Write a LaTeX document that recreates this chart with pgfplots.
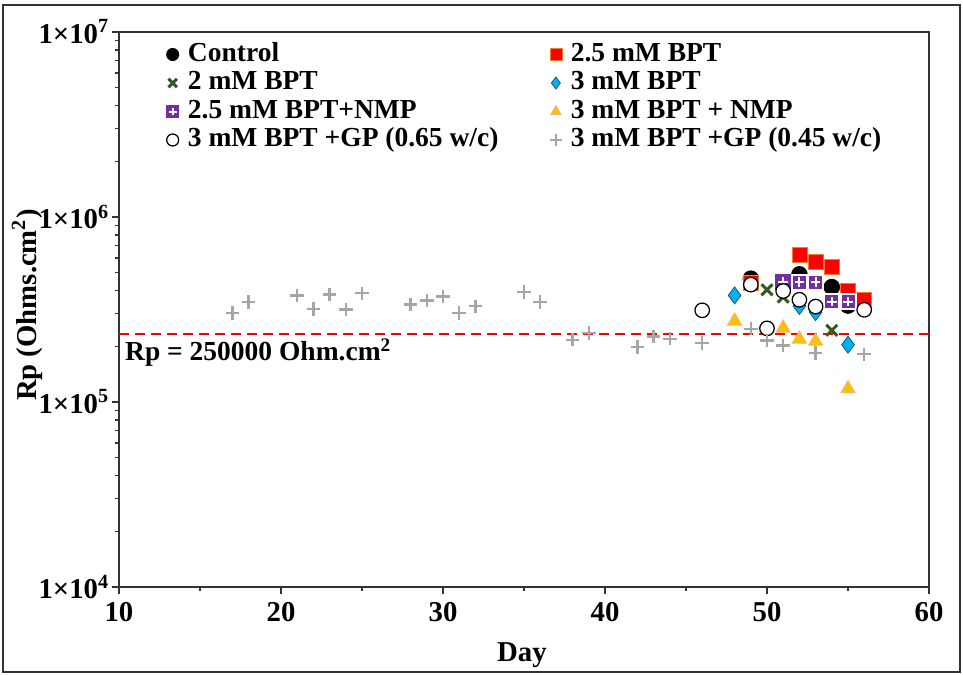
\documentclass[border=0pt]{standalone}
\usepackage{fontspec}
\setmainfont{Liberation Serif}
\usepackage{pgfplots}
\pgfplotsset{compat=1.18}
\definecolor{cgreen}{HTML}{375623}
\definecolor{cblue}{HTML}{00B0F0}
\definecolor{cblueedge}{HTML}{1F4E79}
\definecolor{cgold}{HTML}{FFC000}
\definecolor{cgoldedge}{HTML}{F4B183}
\definecolor{cpurple}{HTML}{7030A0}
\definecolor{cgray}{HTML}{A6A6A6}
\definecolor{credge}{HTML}{ED7D31}
\pgfdeclareplotmark{sqplus}{%
  \pgfpathrectangle{\pgfqpoint{-\pgfplotmarksize}{-\pgfplotmarksize}}{\pgfqpoint{2\pgfplotmarksize}{2\pgfplotmarksize}}%
  \pgfusepathqfillstroke
  \pgfsetstrokecolor{white}%
  \pgfsetlinewidth{0.8pt}%
  \pgfpathmoveto{\pgfqpoint{-0.65\pgfplotmarksize}{0pt}}\pgfpathlineto{\pgfqpoint{0.65\pgfplotmarksize}{0pt}}%
  \pgfpathmoveto{\pgfqpoint{0pt}{-0.65\pgfplotmarksize}}\pgfpathlineto{\pgfqpoint{0pt}{0.65\pgfplotmarksize}}%
  \pgfusepathqstroke
}
\pgfplotsset{mk/.style={only marks, legend image code/.code={\path (0cm,0cm) (0.36cm,0cm);\draw[mark repeat=2,mark phase=2,##1,mark size=2.4pt] plot coordinates {(0cm,0cm)(0.18cm,0cm)(0.36cm,0cm)};}}}
\begin{document}
\begin{tikzpicture}
\useasboundingbox (-47.6pt,-35.2pt) rectangle (337.6pt,234.8pt);
\begin{axis}[
  scale only axis, width=324pt, height=222pt,
  xmin=10, xmax=60, ymode=log, ymin=1e4, ymax=1e7,
  xtick={10,20,...,60}, minor x tick num=1,
  ytick={1e4,1e5,1e6,1e7},
  yticklabels={1×10\textsuperscript{4},1×10\textsuperscript{5},1×10\textsuperscript{6},1×10\textsuperscript{7}},
  xtick pos=bottom, ytick pos=left, tick align=outside,
  major tick length=2.8pt, minor tick length=1.6pt,
  axis line style={black!80, line width=0.7pt},
  every tick/.style={black!80, line width=0.6pt},
  /pgf/number format/assume math mode=true,
  ticklabel style={font=\bfseries\fontsize{11.5}{13}\selectfont},
  yticklabel style={xshift=2.5pt},
  xlabel={Day}, ylabel={Rp (Ohms.cm\textsuperscript{2})},
  every axis x label/.style={at={(axis description cs:0.4975,-0.1225)},anchor=center,font=\bfseries\fontsize{11.5}{13}\selectfont},
  every axis y label/.style={at={(axis description cs:-0.1136,0.508)},rotate=90,anchor=center,font=\bfseries\fontsize{11.5}{13}\selectfont},
  legend columns=2,
  legend cell align=left,
  legend style={at={(axis description cs:0.048,0.986)}, anchor=north west, draw=none, fill=none, inner sep=0pt,
    font=\bfseries\fontsize{11}{12}\selectfont, row sep=0pt,
    nodes={text height=7.9pt, text depth=2.7pt, inner sep=0.4pt},
    /tikz/every even column/.append style={column sep=17pt}},
  clip=false,
]
\addplot[mk, mark=*, mark size=3.1pt, black] coordinates {(49,4.64e5) (52,4.9e5) (54,4.18e5) (55,3.32e5)};
\addlegendentry{Control}
\addplot[mk, mark=square*, mark size=3pt, draw=credge, fill=red, line width=0.3pt] coordinates {(49,4.39e5) (52,6.27e5) (53,5.7e5) (54,5.4e5) (55,4.01e5) (56,3.57e5)};
\addlegendentry{2.5 mM BPT}
\addplot[mk, mark=x, mark size=3.1pt, cgreen, line width=1.2pt] coordinates {(50,4.04e5) (51,3.69e5) (54,2.44e5)};
\addlegendentry{2 mM BPT}
\addplot[mk, mark=diamond*, mark size=3.4pt, draw=cblueedge, fill=cblue, line width=0.3pt] coordinates {(48,3.77e5) (52,3.3e5) (53,3.06e5) (55,2.04e5)};
\addlegendentry{3 mM BPT}
\addplot[mk, mark=sqplus, mark size=3pt, draw=cpurple, fill=cpurple, line width=0.3pt] coordinates {(51,4.44e5) (52,4.44e5) (53,4.44e5) (54,3.49e5) (55,3.49e5)};
\addlegendentry{2.5 mM BPT+NMP}
\addplot[mk, mark=triangle*, mark size=3.3pt, draw=cgoldedge, fill=cgold, line width=0.3pt] coordinates {(48,2.74e5) (51,2.51e5) (52,2.19e5) (53,2.13e5) (55,1.18e5)};
\addlegendentry{3 mM BPT + NMP}
\addplot[mk, mark=*, mark size=2.9pt, draw=black, fill=white, line width=0.5pt] coordinates {(46,3.13e5) (49,4.31e5) (50,2.5e5) (51,3.98e5) (52,3.57e5) (53,3.28e5) (56,3.15e5)};
\addlegendentry{3 mM BPT +GP (0.65 w/c)}
\addplot[mk, mark=+, mark size=2.7pt, cgray, line width=0.9pt] coordinates {(17,3.03e5) (18,3.47e5) (21,3.77e5) (22,3.19e5) (23,3.81e5) (24,3.16e5) (25,3.87e5) (28,3.36e5) (29,3.54e5) (30,3.72e5) (31,3.02e5) (32,3.29e5) (35,3.93e5) (36,3.47e5) (38,2.17e5) (39,2.36e5) (42,1.98e5) (43,2.26e5) (44,2.2e5) (46,2.09e5) (49,2.49e5) (50,2.15e5) (51,2.02e5) (53,1.84e5) (56,1.81e5)};
\addlegendentry{3 mM BPT +GP (0.45 w/c)}
\addplot[red, line width=0.8pt, dash pattern=on 4pt off 2.4pt, forget plot] coordinates {(10,2.33e5) (60,2.33e5)};
\node[anchor=west, font=\bfseries\fontsize{11}{13}\selectfont, inner sep=0pt] at (axis cs:10.35,1.85e5) {Rp = 250000 Ohm.cm\textsuperscript{2}};
\end{axis}
\draw[line width=0.9pt, black!80] (-46.4pt,-34pt) rectangle (336.4pt,232.8pt);
\end{tikzpicture}
\end{document}
